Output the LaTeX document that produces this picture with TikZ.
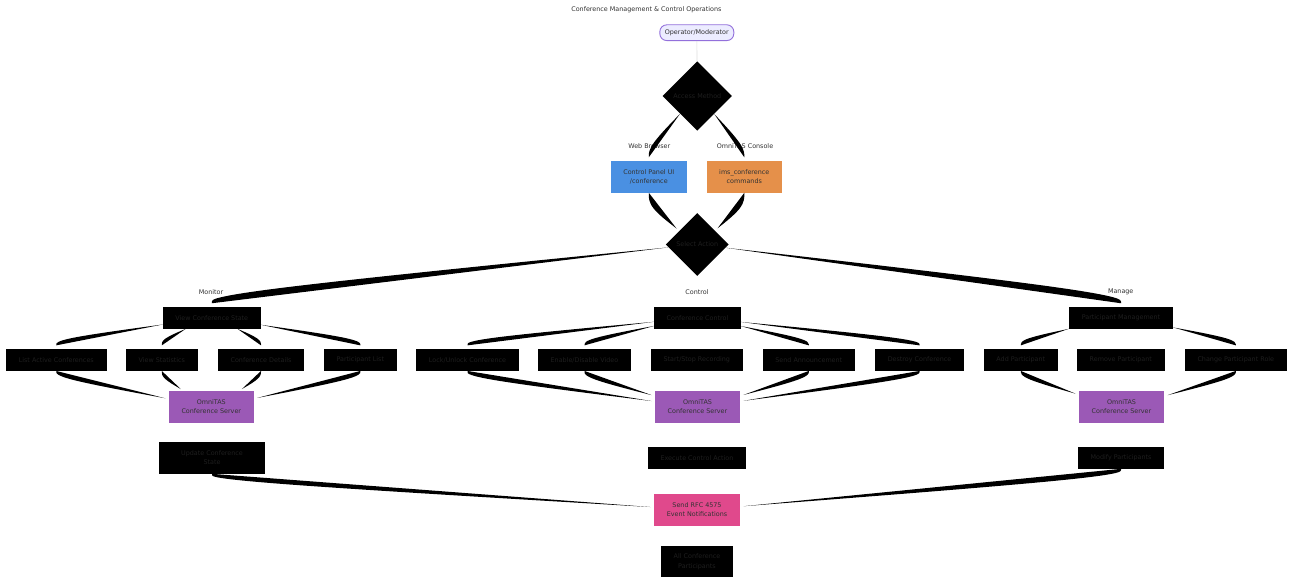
\documentclass[tikz,border=0pt]{standalone}
\usepackage{fontspec}
\setmainfont{DejaVu Sans}
\usetikzlibrary{shapes.geometric,calc}
\definecolor{txt}{HTML}{333333}
\definecolor{dtxt}{HTML}{1E1E1E}
\definecolor{opfill}{HTML}{ECECFF}
\definecolor{opdraw}{HTML}{9370DB}
\definecolor{blueb}{HTML}{4A90E2}
\definecolor{orangeb}{HTML}{E5904A}
\definecolor{purpleb}{HTML}{9B59B6}
\definecolor{pinkb}{HTML}{E0498C}
\definecolor{thinline}{HTML}{DDDDDD}
% filled basis-curve connector: source node, middle point, target node
\newcommand\basisedge[3]{%
  \coordinate (bm) at (#2);
  \path (bm) -- coordinate[pos=1] (bs) (#1);
  \path (bm) -- coordinate[pos=1] (bt) (#3);
  \coordinate (be) at ($(bt)!3.5pt!(bm)$);
  \coordinate (bh) at ($(bs)!0.5!(be)$);
  \coordinate (bq) at ($(bm)!1/3!(bh)$);
  \fill[edgefill] (bs) -- ($(bs)!1/6!(bm)$)
     .. controls ($(bs)!1/3!(bm)$) and ($(bs)!2/3!(bm)$) .. (bq)
     .. controls ($(bm)!1/3!(be)$) and ($(bm)!2/3!(be)$) .. ($(bm)!5/6!(be)$)
     -- (be) -- cycle;}
% straight connector: its fill has no area, so nothing shows
\newcommand\lineedge[2]{\path (#1) -- (#2);}
\begin{document}
\begin{tikzpicture}[x=1pt,y=-1pt,
  every node/.style={font=\fontsize{6.4}{9.6}\selectfont, inner sep=0pt, align=center},
  blk/.style={rectangle, fill=black, text=dtxt, minimum height=21.7pt},
  blktwo/.style={rectangle, fill=black, text=dtxt, minimum height=31.7pt},
  colbox/.style={rectangle, fill=#1, text=txt, minimum height=31.6pt},
  decide/.style={diamond, fill=black, text=dtxt, aspect=1},
  lbl/.style={text=txt},
  edgefill/.style={fill=black}]
\fill[white] (0,0) rectangle (1290,577);
\useasboundingbox (0,0) rectangle (1290,577);

\node[lbl] (title) at (646.4,9.6) {Conference Management \& Control Operations};
\node[rectangle, rounded corners=7pt, draw=opdraw, line width=0.9pt, fill=opfill, text=txt,
      minimum width=74pt, minimum height=15.8pt] (op) at (696.8,32.7) {Operator/Moderator};
\node[decide, minimum width=69.5pt, minimum height=69.5pt] (am) at (697.3,96) {Access Method};
\node[lbl] (lweb) at (649.3,146) {Web Browser};
\node[lbl] (lcon) at (745,146) {OmniTAS Console};
\node[colbox=blueb, minimum width=75.6pt] (cp) at (648.8,176.8) {Control Panel UI\\/conference};
\node[colbox=orangeb, minimum width=74.6pt] (ims) at (744.3,176.8) {ims\_conference\\commands};
\node[decide, minimum width=63pt, minimum height=63pt] (sa) at (697.2,244.5) {Select Action};

\node[lbl] (lmon) at (211,292) {Monitor};
\node[lbl] (lctl) at (697,292) {Control};
\node[lbl] (lman) at (1120.7,292) {Manage};

\node[blk, minimum width=97.7pt] (vcs) at (211.8,317.8) {View Conference State};
\node[blk, minimum width=86.4pt] (cc) at (697.5,317.8) {Conference Control};
\node[blk, minimum width=104pt] (pm) at (1121,317.8) {Participant Management};

\node[blk, minimum width=100.7pt] (list) at (56.3,359.9) {List Active Conferences};
\node[blk, minimum width=71.7pt] (stats) at (161.8,359.9) {View Statistics};
\node[blk, minimum width=86pt] (details) at (261,359.9) {Conference Details};
\node[blk, minimum width=72.7pt] (plist) at (360.3,359.9) {Participant List};
\node[blk, minimum width=103pt] (lock) at (467.5,359.9) {Lock/Unlock Conference};
\node[blk, minimum width=93pt] (video) at (584.5,359.9) {Enable/Disable Video};
\node[blk, minimum width=91.7pt] (rec) at (696.8,359.9) {Start/Stop Recording};
\node[blk, minimum width=91.7pt] (ann) at (808.8,359.9) {Send Announcement};
\node[blk, minimum width=89pt] (destroy) at (919.5,359.9) {Destroy Conference};
\node[blk, minimum width=73.7pt] (add) at (1020.8,359.9) {Add Participant};
\node[blk, minimum width=87.7pt] (remove) at (1120.8,359.9) {Remove Participant};
\node[blk, minimum width=101.7pt] (role) at (1235.8,359.9) {Change Participant Role};

\node[colbox=purpleb, minimum width=84.7pt] (srva) at (211.3,406.8) {OmniTAS\\Conference Server};
\node[colbox=purpleb, minimum width=85pt] (srvb) at (697.5,406.8) {OmniTAS\\Conference Server};
\node[colbox=purpleb, minimum width=85pt] (srvc) at (1121.5,406.8) {OmniTAS\\Conference Server};

\node[blktwo, minimum width=106pt] (upd) at (212,457.8) {Update Conference\\State};
\node[blk, minimum width=98.3pt] (exec) at (697,457.8) {Execute Control Action};
\node[blk, minimum width=86pt] (mod) at (1121,457.8) {Modify Participants};
\node[colbox=pinkb, minimum width=86pt] (rfc) at (697,509.8) {Send RFC 4575\\Event Notifications};
\node[blktwo, minimum width=72pt] (all) at (697,561.8) {All Conference\\Participants};

% connectors
\draw[thinline, line width=0.6pt] (op) -- (am);
\basisedge{am}{648.8,146}{cp}
\basisedge{am}{744.3,146}{ims}
\basisedge{cp}{648.8,207}{sa}
\basisedge{ims}{744.3,207}{sa}

\basisedge{sa}{211.8,293}{vcs}
\lineedge{sa}{cc}
\basisedge{sa}{1121,293}{pm}

\basisedge{vcs}{56.3,339}{list}
\basisedge{vcs}{161.8,339}{stats}
\basisedge{vcs}{261,339}{details}
\basisedge{vcs}{360.3,339}{plist}
\basisedge{list}{56.3,378}{srva}
\basisedge{stats}{161.8,378}{srva}
\basisedge{details}{261,378}{srva}
\basisedge{plist}{360.3,378}{srva}
\lineedge{srva}{upd}

\basisedge{cc}{467.5,339}{lock}
\basisedge{cc}{584.5,339}{video}
\lineedge{cc}{rec}
\basisedge{cc}{808.8,339}{ann}
\basisedge{cc}{919.5,339}{destroy}
\basisedge{lock}{467.5,378}{srvb}
\basisedge{video}{584.5,378}{srvb}
\lineedge{rec}{srvb}
\basisedge{ann}{808.8,378}{srvb}
\basisedge{destroy}{919.5,378}{srvb}
\lineedge{srvb}{exec}

\basisedge{pm}{1020.8,339}{add}
\lineedge{pm}{remove}
\basisedge{pm}{1235.8,339}{role}
\basisedge{add}{1020.8,378}{srvc}
\lineedge{remove}{srvc}
\basisedge{role}{1235.8,378}{srvc}
\lineedge{srvc}{mod}

\basisedge{upd}{212,481}{rfc}
\lineedge{exec}{rfc}
\basisedge{mod}{1121,477}{rfc}
\lineedge{rfc}{all}
\end{tikzpicture}
\end{document}
